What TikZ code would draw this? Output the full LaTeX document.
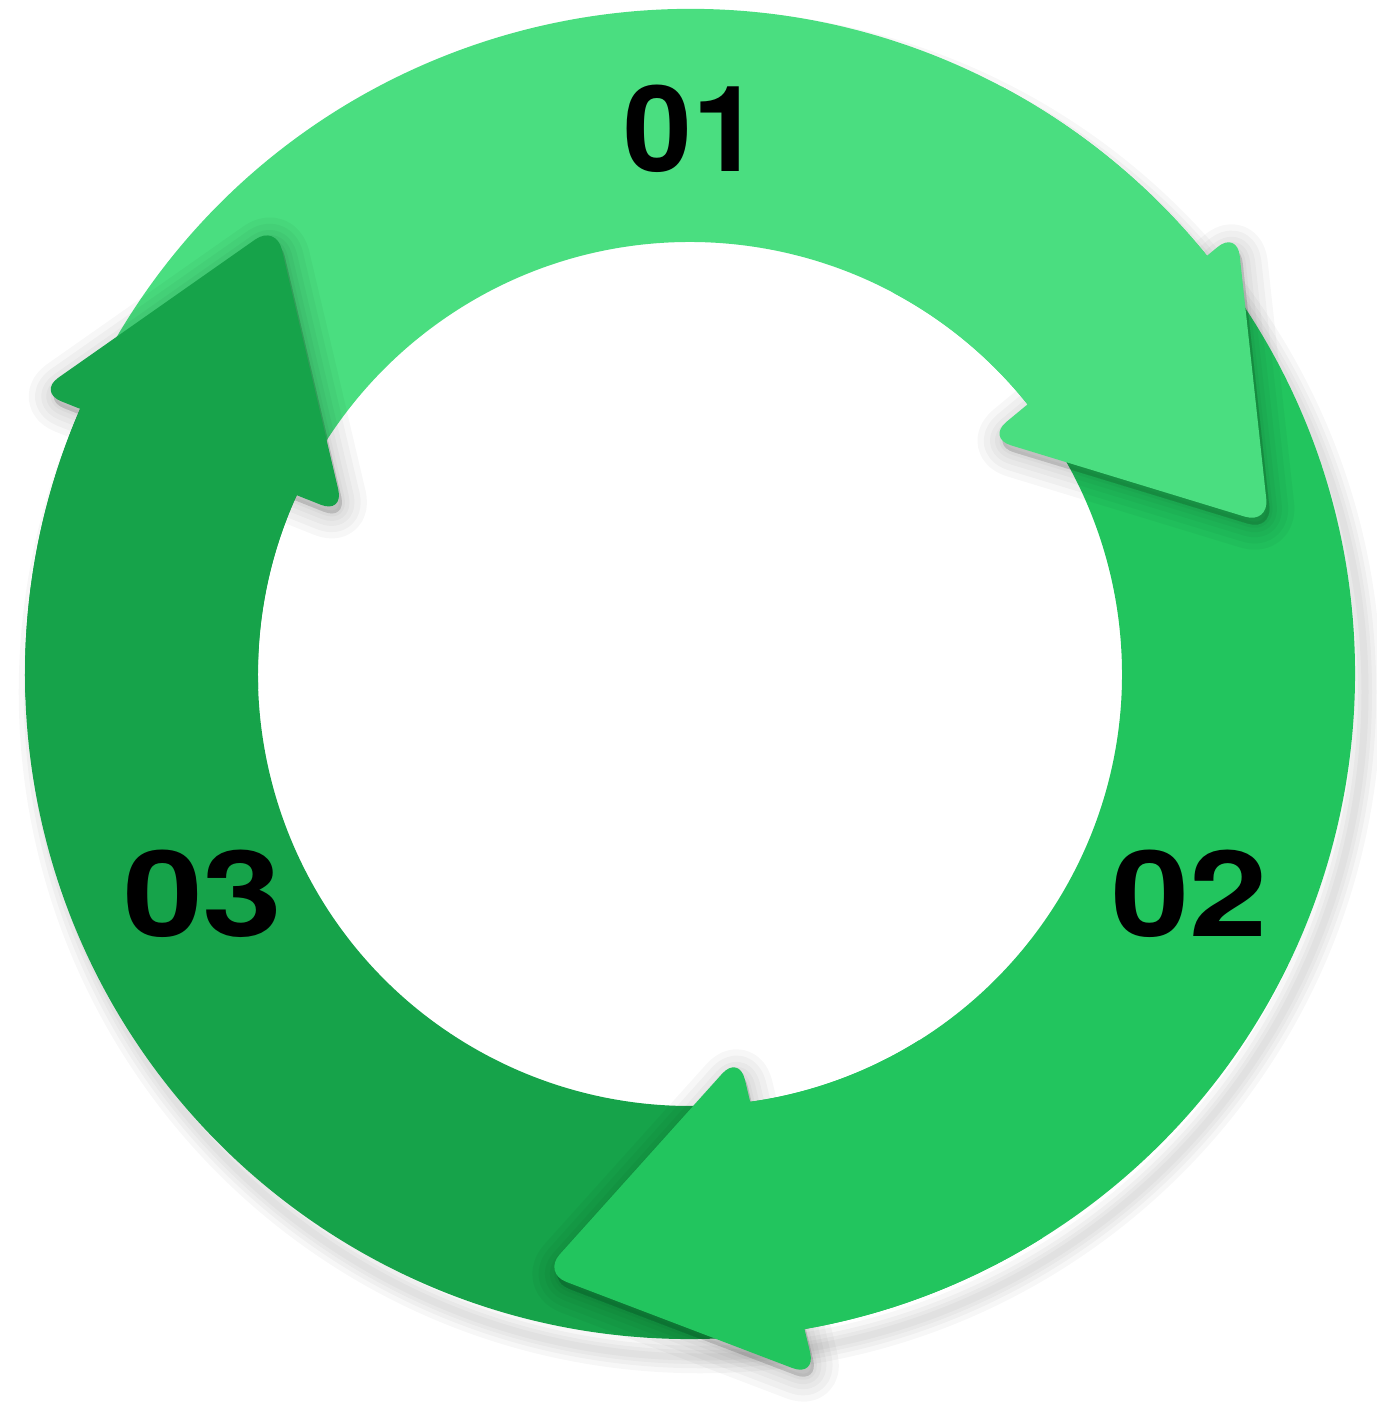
\documentclass[tikz,border=0pt]{standalone}
\usepackage{fontspec}
\usepackage{graphicx}
\newfontfamily\numfont{TeX Gyre Heros}
\definecolor{gA}{HTML}{4ADE80}
\definecolor{gB}{HTML}{22C55E}
\definecolor{gC}{HTML}{16A34A}
\tikzset{
  numlbl/.style={font=\numfont\bfseries\fontsize{68}{68}\selectfont, text=black, inner sep=0pt},
  headshade/.style={black, opacity=0.03, line join=round, rounded corners=0.5cm, shift={(0.06,-0.14)}},
  headfill/.style={rounded corners=0.5cm},
}
\begin{document}
\begin{tikzpicture}
\useasboundingbox (-13.8,-14.86) rectangle (13.74,13.48);
\def\Ro{13.3}
\def\Ri{8.64}
% ring shadow
\foreach \w in {0.65,0.45,0.28,0.14}{
  \draw[black, opacity=0.03, line width=\w cm] (0.2,-0.36) circle (\Ro);
}
% bands
\fill[gA] (153:\Ro) arc[start angle=153, end angle=37, radius=\Ro] -- (37:\Ri) arc[start angle=37, end angle=153, radius=\Ri] -- cycle;
\fill[gB] (37:\Ro) arc[start angle=37, end angle=-84, radius=\Ro] -- (-84:\Ri) arc[start angle=-84, end angle=37, radius=\Ri] -- cycle;
\fill[gC] (-84:\Ro) arc[start angle=-84, end angle=-207, radius=\Ro] -- (-207:\Ri) arc[start angle=-207, end angle=-84, radius=\Ri] -- cycle;
% heads with soft shadows
\foreach \P/\Q/\S/\col in {{10.94,8.86}/{5.94,4.72}/{11.58,3.0}/gA, {0.98,-7.62}/{2.52,-14.06}/{-2.94,-11.98}/gB, {-13.04,5.64}/{-6.92,3.20}/{-8.28,8.98}/gC}{
  \foreach \w in {1.0,0.75,0.5,0.3,0.12}{
    \draw[headshade, line width=\w cm, fill] (\P) -- (\Q) -- (\S) -- cycle;
  }
  \fill[headfill, \col] (\P) -- (\Q) -- (\S) -- cycle;
}
% band ends joined to their own heads (cover the own-head shadow)
\fill[gA] (62:\Ro) arc[start angle=62, end angle=37, radius=\Ro] -- (37:\Ri) arc[start angle=37, end angle=62, radius=\Ri] -- cycle;
\fill[gB] (-58:\Ro) arc[start angle=-58, end angle=-84, radius=\Ro] -- (-84:\Ri) arc[start angle=-84, end angle=-58, radius=\Ri] -- cycle;
\fill[gC] (-178:\Ro) arc[start angle=-178, end angle=-207, radius=\Ro] -- (-207:\Ri) arc[start angle=-207, end angle=-178, radius=\Ri] -- cycle;
% labels
\node[numlbl] (n1) at (0.05,10.90) {\scalebox{1.035}[1]{01}};
\node[numlbl] (n2) at (9.99,-4.40) {\scalebox{1.175}[1]{02}};
\node[numlbl] (n3) at (-9.74,-4.40) {\scalebox{1.2}[1]{03}};
\end{tikzpicture}
\end{document}
